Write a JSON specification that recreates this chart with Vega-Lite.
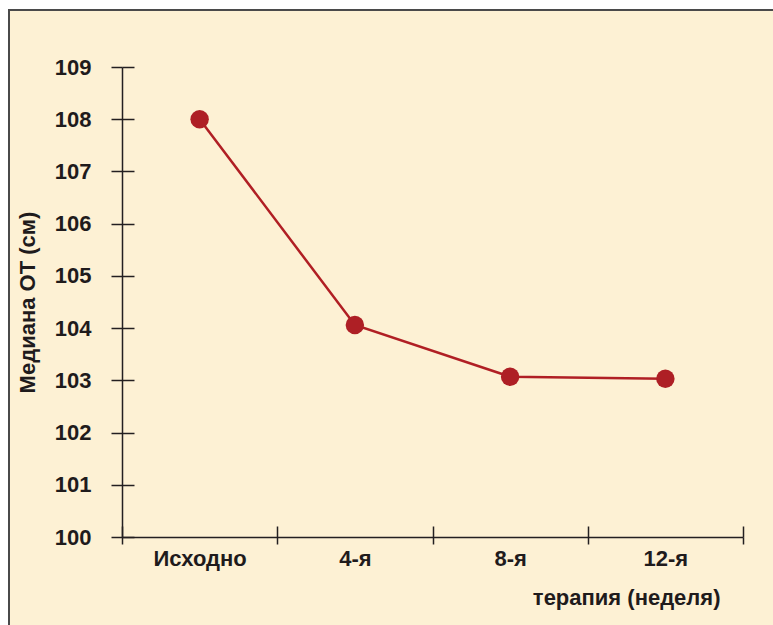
{
  "$schema": "https://vega.github.io/schema/vega-lite/v6.json",
  "width": 766,
  "height": 617,
  "autosize": {"type": "none"},
  "padding": {"left": 9, "top": 10, "right": -2, "bottom": -2},
  "background": "#ffffff",
  "view": {"fill": "#fdf1d4", "stroke": "#4a4a4a", "strokeWidth": 2},
  "data": {
    "values": [
      {"week": "Исходно", "ot": 108.0},
      {"week": "4-я", "ot": 104.06},
      {"week": "8-я", "ot": 103.07},
      {"week": "12-я", "ot": 103.03}
    ]
  },
  "config": {
    "axis": {
      "grid": false,
      "domainColor": "#231f20",
      "domainWidth": 1.5,
      "tickColor": "#231f20",
      "tickWidth": 1.5,
      "labelFont": "Liberation Sans",
      "labelFontSize": 22,
      "labelFontWeight": "bold",
      "labelColor": "#1f1b1c",
      "titleFont": "Liberation Sans",
      "titleFontSize": 22,
      "titleFontWeight": "bold",
      "titleColor": "#1f1b1c"
    }
  },
  "layer": [
    {
      "mark": {"type": "line", "color": "#b01f24", "strokeWidth": 2.5},
      "encoding": {
        "x": {
          "field": "week", "type": "nominal", "sort": null, "bandPosition": 0.5,
          "scale": {"type": "band", "range": [113, 734], "paddingInner": 0, "paddingOuter": 0},
          "axis": {
            "orient": "bottom", "offset": -90, "tickSize": 7, "tickBand": "extent",
            "labelPadding": 4, "labelAngle": 0,
            "title": "терапия (неделя)", "titleX": 711, "titleY": 60,
            "titleAlign": "right", "titleBaseline": "middle", "titleAnchor": "end"
          }
        },
        "y": {
          "field": "ot", "type": "quantitative",
          "scale": {"domain": [100, 109], "range": [527, 57], "nice": false, "zero": false},
          "axis": {
            "orient": "left", "offset": -113, "tickSize": 11,
            "values": [100, 101, 102, 103, 104, 105, 106, 107, 108, 109],
            "labelPadding": 20, "title": "Медиана ОТ (см)", "titlePadding": 15
          }
        }
      }
    },
    {
      "mark": {"type": "circle", "color": "#ae1f25", "opacity": 1, "size": 340},
      "encoding": {
        "x": {
          "field": "week", "type": "nominal", "sort": null, "bandPosition": 0.5,
          "axis": {
            "orient": "bottom", "offset": -101, "tickSize": 11, "tickBand": "extent",
            "labels": false, "domain": false, "title": null
          }
        },
        "y": {
          "field": "ot", "type": "quantitative",
          "axis": {
            "orient": "left", "offset": -125, "tickSize": 12,
            "values": [100, 101, 102, 103, 104, 105, 106, 107, 108, 109],
            "labels": false, "domain": false, "title": null
          }
        }
      }
    }
  ],
  "resolve": {"axis": {"x": "independent", "y": "independent"}}
}
